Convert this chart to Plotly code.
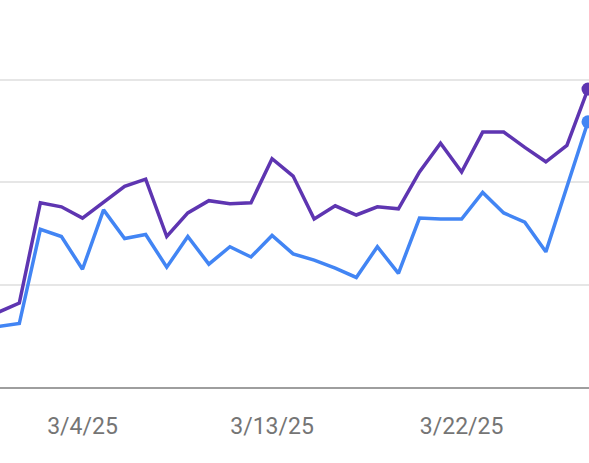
import plotly.graph_objects as go

# daily values, 2/28/25 .. 3/28/25
dates = [
    "2025-02-28", "2025-03-01", "2025-03-02", "2025-03-03", "2025-03-04",
    "2025-03-05", "2025-03-06", "2025-03-07", "2025-03-08", "2025-03-09",
    "2025-03-10", "2025-03-11", "2025-03-12", "2025-03-13", "2025-03-14",
    "2025-03-15", "2025-03-16", "2025-03-17", "2025-03-18", "2025-03-19",
    "2025-03-20", "2025-03-21", "2025-03-22", "2025-03-23", "2025-03-24",
    "2025-03-25", "2025-03-26", "2025-03-27", "2025-03-28",
]
purple_vals = [
    73, 82, 180, 176, 165, 181, 196, 203, 147, 170,
    182, 179, 180, 223, 206, 164, 177, 168, 176, 174,
    210, 238, 210, 249, 249, 234, 220, 236, 291,
]
blue_vals = [
    59, 62, 154, 147, 115, 173, 145, 149, 117, 147,
    120, 137, 127, 148, 130, 124, 116, 107, 137, 111,
    165, 164, 164, 190, 170, 161, 132, 195, 259,
]
tick_dates = ["2025-03-04", "2025-03-13", "2025-03-22"]
tick_labels = ["3/4/25", "3/13/25", "3/22/25"]

PURPLE = "#5E35B1"
BLUE = "#4285F4"

fig = go.Figure()
for vals, col in [(blue_vals, BLUE), (purple_vals, PURPLE)]:
    fig.add_trace(go.Scatter(
        x=dates, y=vals, mode="lines",
        line=dict(color=col, width=3.5),
    ))
    # dot on the latest point
    fig.add_trace(go.Scatter(
        x=dates[-1:], y=vals[-1:], mode="markers",
        marker=dict(color=col, size=13, line=dict(width=0)),
    ))

fig.update_layout(
    width=589, height=463,
    margin=dict(l=0, r=0, t=0, b=76),
    plot_bgcolor="white", paper_bgcolor="white",
    showlegend=False,
    font=dict(family="Roboto", color="#757575"),
)
fig.update_xaxes(
    range=["2025-02-28 02:00", "2025-03-28 01:10"],
    tickvals=tick_dates, ticktext=tick_labels,
    tickfont=dict(size=23, color="#757575"),
    ticks="", ticklabelstandoff=17,
    showgrid=False, zeroline=False,
    showline=True, linecolor="#9e9e9e", linewidth=2,
)
fig.update_yaxes(
    range=[0, 378],
    tickvals=[100, 200, 300],
    showticklabels=False,
    showgrid=True, gridcolor="#e6e6e6", gridwidth=1.5,
    zeroline=False,
)

# drop the default page margin so the chart sits at the window corner
fig.write_html(
    "out.html",
    config={"displayModeBar": False},
    post_script="document.body.style.margin='0';document.body.style.overflow='hidden';",
)
